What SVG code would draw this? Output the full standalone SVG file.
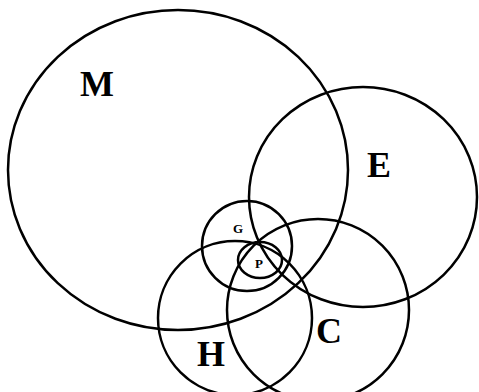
<svg xmlns="http://www.w3.org/2000/svg" width="479" height="392" viewBox="0 0 479 392">
<style>
.c{fill:none;stroke:#000;stroke-width:2.5}
.l{font-family:"Liberation Serif","Times New Roman",serif;font-weight:bold;fill:#000;text-anchor:middle}
.b{font-size:36px}
.s{font-size:13px}
</style>
<rect width="479" height="392" fill="#fff"/>
<g id="M"><ellipse class="c" cx="178" cy="170" rx="170" ry="160"/><text class="l b" x="97" y="96">M</text></g>
<g id="E"><ellipse class="c" cx="363" cy="197" rx="114" ry="110"/><text class="l b" x="379" y="177">E</text></g>
<g id="G"><circle class="c" cx="247" cy="246" r="45"/><text class="l s" x="238" y="233">G</text></g>
<g id="P"><ellipse class="c" cx="260" cy="260" rx="22" ry="18"/><text class="l s" x="259" y="268">P</text></g>
<g id="H"><circle class="c" cx="235" cy="318" r="77"/><text class="l b" x="211" y="366">H</text></g>
<g id="C"><circle class="c" cx="318" cy="310" r="91"/><text class="l b" x="329" y="343">C</text></g>
</svg>
